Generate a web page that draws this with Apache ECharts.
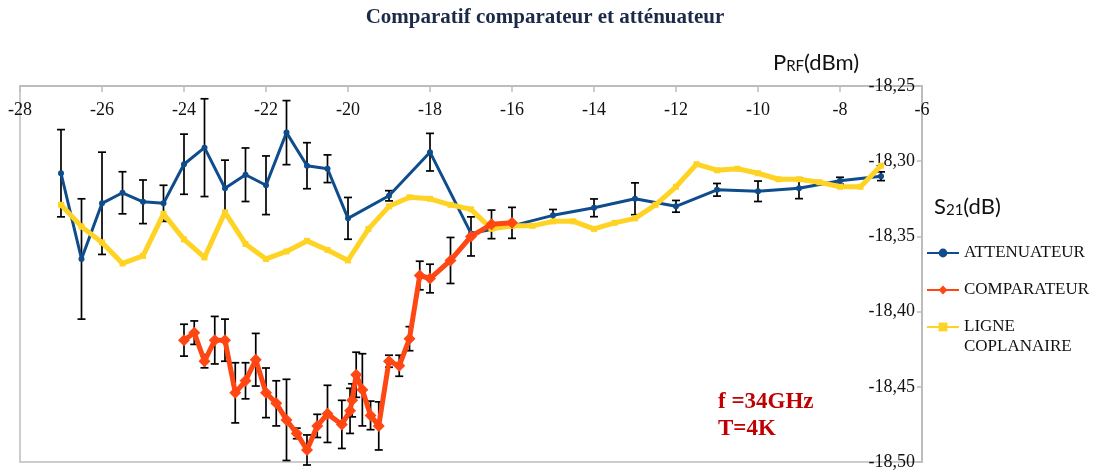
<!DOCTYPE html>
<html>
<head>
<meta charset="utf-8">
<script src="https://cdn.jsdelivr.net/npm/echarts@6/dist/echarts.min.js"></script>
<style>
html,body{margin:0;padding:0;background:#fff;}
#chart{width:1110px;height:473px;}
</style>
</head>
<body>
<div id="chart"></div>
<script>
// ---- Data ----
const xTicks = [-28, -26, -24, -22, -20, -18, -16, -14, -12, -10, -8, -6];
const yTicks = [-18.25, -18.30, -18.35, -18.40, -18.45, -18.50];

const attX = [-27,-26.5,-26,-25.5,-25,-24.5,-24,-23.5,-23,-22.5,-22,-21.5,-21,-20.5,-20,-19,-18,-17,-16,-15,-14,-13,-12,-11,-10,-9,-8,-7];
const attY = [-18.308,-18.365,-18.328,-18.321,-18.327,-18.328,-18.302,-18.291,-18.318,-18.309,-18.316,-18.281,-18.303,-18.305,-18.338,-18.323,-18.294,-18.348,-18.343,-18.336,-18.331,-18.325,-18.330,-18.319,-18.320,-18.318,-18.313,-18.310];
const attErr = [0.029,0.040,0.034,0.014,0.0145,0.012,0.020,0.0325,0.0187,0.0178,0.0195,0.0213,0.0153,0.0092,0.0139,0.0034,0.0125,0,0,0.0039,0.0059,0.0106,0.0039,0.0042,0.0068,0.0069,0.0023,0.0029];

const compX = [-24,-23.75,-23.5,-23.25,-23,-22.75,-22.5,-22.25,-22,-21.75,-21.5,-21.25,-21,-20.75,-20.5,-20.15,-19.95,-19.9,-19.8,-19.65,-19.45,-19.25,-19,-18.75,-18.5,-18.25,-18,-17.5,-17,-16.5,-16];
const compY = [-18.419,-18.414,-18.433,-18.419,-18.419,-18.454,-18.446,-18.432,-18.454,-18.461,-18.472,-18.481,-18.492,-18.476,-18.468,-18.475,-18.466,-18.459,-18.442,-18.452,-18.469,-18.476,-18.433,-18.436,-18.418,-18.376,-18.378,-18.366,-18.350,-18.342,-18.341];
const compErr = [0.0106,0.0078,0.0044,0.0158,0.014,0.020,0.012,0.0175,0.0165,0.015,0.027,0.0035,0.010,0.0077,0.019,0.016,0.015,0.011,0.015,0.024,0.0095,0.016,0.004,0.007,0.008,0.0095,0.0095,0.0153,0.013,0.0095,0.0103];

const ligX = [-27,-26.5,-26,-25.5,-25,-24.5,-24,-23.5,-23,-22.5,-22,-21.5,-21,-20.5,-20,-19.5,-19,-18.5,-18,-17.5,-17,-16.5,-16,-15.5,-15,-14.5,-14,-13.5,-13,-12.5,-12,-11.5,-11,-10.5,-10,-9.5,-9,-8.5,-8,-7.5,-7];
const ligY = [-18.329,-18.3435,-18.354,-18.368,-18.363,-18.335,-18.352,-18.364,-18.334,-18.355,-18.365,-18.360,-18.353,-18.359,-18.366,-18.345,-18.330,-18.324,-18.325,-18.329,-18.332,-18.345,-18.343,-18.343,-18.340,-18.340,-18.345,-18.341,-18.338,-18.329,-18.317,-18.302,-18.306,-18.305,-18.308,-18.312,-18.312,-18.314,-18.317,-18.317,-18.303];

const seriesNames = ['ATTENUATEUR', 'COMPARATEUR', 'LIGNE COPLANAIRE'];
const titleText = 'Comparatif comparateur et atténuateur';

// ---- Build ----
const zip2 = (xs, ys) => xs.map((x, i) => [x, ys[i]]);
const zip3 = (xs, ys, es) => xs.map((x, i) => [x, ys[i], es[i]]).filter(d => d[2] > 0);

function errRender(params, api) {
  const x = api.value(0), y = api.value(1), e = api.value(2);
  const top = api.coord([x, y + e]);
  const bot = api.coord([x, y - e]);
  const w = 4;
  const st = { stroke: '#000', lineWidth: 1.7 };
  return {
    type: 'group',
    children: [
      { type: 'line', shape: { x1: top[0], y1: top[1], x2: bot[0], y2: bot[1] }, style: st },
      { type: 'line', shape: { x1: top[0] - w, y1: top[1], x2: top[0] + w, y2: top[1] }, style: st },
      { type: 'line', shape: { x1: bot[0] - w, y1: bot[1], x2: bot[0] + w, y2: bot[1] }, style: st }
    ]
  };
}

const blue = '#0E4C8C', red = '#FF4713', yellow = '#FFD324';
const serif = 'Liberation Serif';

const chart = echarts.init(document.getElementById('chart'), null, { renderer: 'canvas' });
chart.setOption({
  animation: false,
  backgroundColor: '#fff',
  grid: { left: 20, right: 188, top: 86, bottom: 11, show: true, borderColor: '#BDBDBD', borderWidth: 1.5 },
  xAxis: {
    type: 'value', position: 'top', min: xTicks[0], max: xTicks[xTicks.length - 1], interval: 2,
    axisLine: { show: true, onZero: false, lineStyle: { color: '#BDBDBD', width: 2 } },
    axisTick: { show: true, inside: true, length: 6, lineStyle: { color: '#BDBDBD', width: 1.5 } },
    axisLabel: { inside: true, margin: 15, color: '#111', fontFamily: serif, fontSize: 18 },
    splitLine: { show: false }
  },
  yAxis: {
    type: 'value', position: 'right', min: yTicks[yTicks.length - 1], max: yTicks[0], interval: 0.05,
    axisLine: { show: true, onZero: false, lineStyle: { color: '#BDBDBD', width: 2 } },
    axisTick: { show: true, inside: true, length: 5, lineStyle: { color: '#BDBDBD', width: 1.5 } },
    axisLabel: { inside: true, margin: 7, color: '#111', fontFamily: serif, fontSize: 18,
      formatter: v => v.toFixed(2).replace('.', ',') },
    splitLine: { show: false }
  },
  legend: [
    {
      data: [seriesNames[0], seriesNames[1]], orient: 'vertical', left: 926, top: 243, padding: 0,
      itemWidth: 32, itemHeight: 11, itemGap: 17,
      textStyle: { fontFamily: serif, fontSize: 17, color: '#111', lineHeight: 20 }
    },
    {
      data: [seriesNames[2]], orient: 'vertical', left: 926, top: 297, padding: 0,
      itemWidth: 32, itemHeight: 11,
      formatter: () => '\nLIGNE\nCOPLANAIRE',
      textStyle: { fontFamily: serif, fontSize: 17, color: '#111', lineHeight: 20 }
    }
  ],
  graphic: [
    { type: 'text', x: 545, y: 18, style: { text: titleText, align: 'center', verticalAlign: 'middle',
      font: 'bold 21px "Liberation Serif"', fill: '#1B2A48' } },
    { type: 'text', x: 773, y: 63, style: { text: '{a|P}{b|RF}{a|(dBm)}', verticalAlign: 'middle',
      rich: { a: { fontFamily: 'Lato', fontSize: 22, fill: '#111', color: '#111' },
              b: { fontFamily: 'Lato', fontSize: 15, fill: '#111', color: '#111', verticalAlign: 'bottom' } } } },
    { type: 'text', x: 934, y: 207, style: { text: '{a|S}{b|21}{a|(dB)}', verticalAlign: 'middle',
      rich: { a: { fontFamily: 'Lato', fontSize: 22, fill: '#111', color: '#111' },
              b: { fontFamily: 'Lato', fontSize: 15, fill: '#111', color: '#111', verticalAlign: 'bottom' } } } },
    { type: 'text', x: 718, y: 402, style: { text: 'f =34GHz', verticalAlign: 'middle',
      font: 'bold 23px "Liberation Serif"', fill: '#C00000' } },
    { type: 'text', x: 718, y: 429, style: { text: 'T=4K', verticalAlign: 'middle',
      font: 'bold 23px "Liberation Serif"', fill: '#C00000' } }
  ],
  series: [
    { name: 'errAtt', type: 'custom', renderItem: errRender, data: zip3(attX, attY, attErr), z: 1,
      encode: { x: 0, y: [1] }, silent: true },
    { name: 'errComp', type: 'custom', renderItem: errRender, data: zip3(compX, compY, compErr), z: 1,
      encode: { x: 0, y: [1] }, silent: true },
    { name: seriesNames[0], type: 'line', data: zip2(attX, attY), z: 3,
      symbol: 'circle', symbolSize: 6, lineStyle: { color: blue, width: 3 }, itemStyle: { color: blue } },
    { name: seriesNames[2], type: 'line', data: zip2(ligX, ligY), z: 4,
      symbol: 'rect', symbolSize: 6, lineStyle: { color: yellow, width: 5 }, itemStyle: { color: yellow } },
    { name: seriesNames[1], type: 'line', data: zip2(compX, compY), z: 5,
      symbol: 'diamond', symbolSize: 12, lineStyle: { color: red, width: 5 }, itemStyle: { color: red } }
  ]
});
</script>
</body>
</html>
